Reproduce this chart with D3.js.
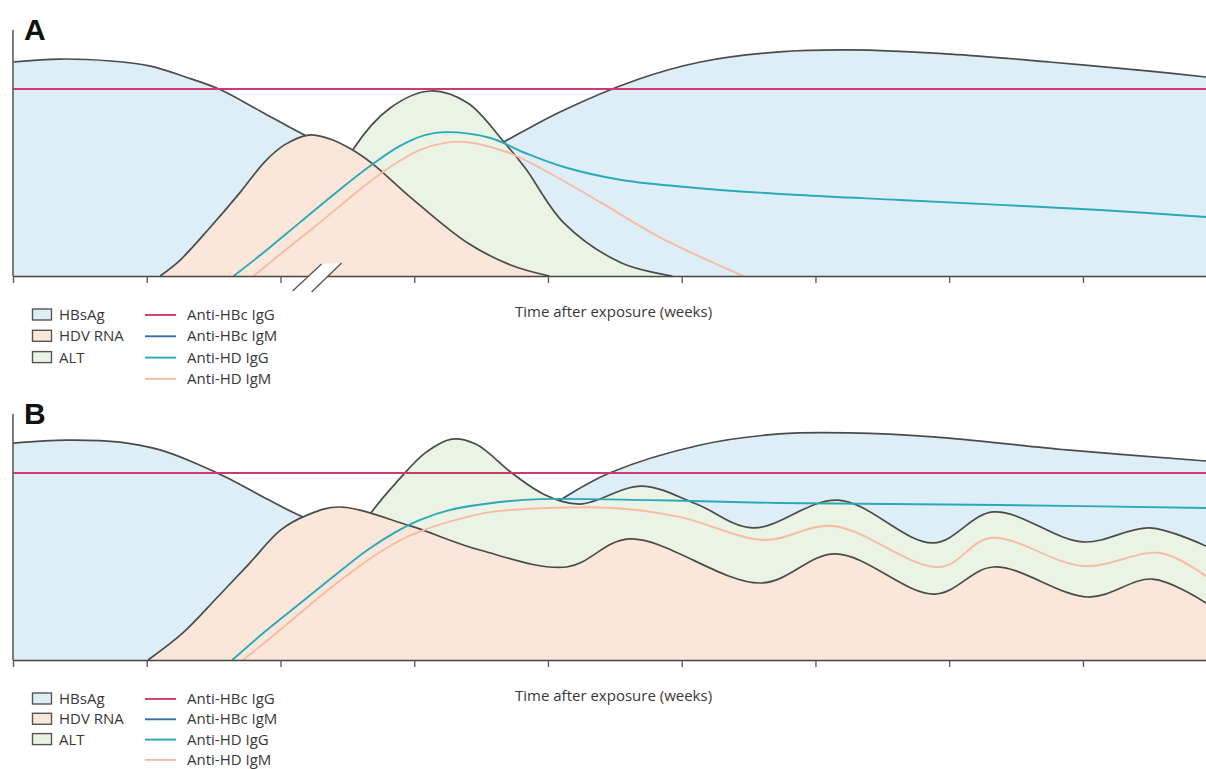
<!DOCTYPE html>
<html>
<head>
<meta charset="utf-8">
<script src="https://cdn.jsdelivr.net/npm/d3@7"></script>
<style>
  body { margin: 0; background: #fff; }
  text { font-family: "Open Sans", "Noto Sans", sans-serif; fill: #383838; }
</style>
</head>
<body>
<div id="chart"></div>
<script>
// values: x in tick units (weeks, unlabelled), y in relative level 0-100

// Panel A - acute coinfection
let aHbsag = [[0, 87.0], [0.35, 88.2], [0.73, 87.4], [1.02, 85.4], [1.29, 80.9], [1.54, 76.0], [1.86, 66.7],
  [2.18, 57.3], [2.59, 47.2], [3.04, 41.1], [3.42, 47.2], [3.67, 54.5], [4.09, 66.7], [4.66, 79.7],
  [5.14, 87.0], [5.73, 91.1], [6.26, 91.9], [7.01, 90.2], [7.75, 87.0], [8.5, 83.3], [8.92, 80.9]];
let aHdvRna = [[1.1, 0], [1.25, 6.5], [1.47, 19.5], [1.7, 34.1], [1.88, 46.3], [2.03, 53.3], [2.21, 57.3],
  [2.37, 55.7], [2.54, 51.2], [2.7, 45.1], [2.97, 32.1], [3.4, 13.4], [3.72, 4.5], [4.01, 0]];
let aAlt = [[1.99, 0], [2.3, 22.8], [2.54, 51.2], [2.82, 68.3], [3.12, 75.2], [3.4, 70.3], [3.67, 54.5],
  [3.83, 43.9], [4.12, 21.5], [4.55, 5.3], [4.93, 0]];
let aAntiHbcIgg = [[0, 76.0], [8.92, 76.0]];
let aAntiHdIgg = [[1.65, 0], [1.85, 8.5], [2.15, 22.0], [2.44, 35.0], [2.68, 45.1], [2.89, 52.8], [3.08, 57.3],
  [3.23, 58.5], [3.57, 56.1], [3.83, 50.0], [4.12, 44.3], [4.55, 39.0], [5.11, 35.8], [5.88, 32.9],
  [6.63, 30.9], [7.38, 28.9], [8.13, 26.8], [8.92, 24.0]];
let aAntiHdIgm = [[1.8, 0], [1.99, 8.5], [2.3, 22.0], [2.59, 35.0], [2.83, 44.7], [3.04, 51.2], [3.23, 54.1],
  [3.38, 54.5], [3.69, 50.4], [3.97, 43.1], [4.4, 29.7], [4.83, 15.9], [5.46, 0]];

// Panel B - superinfection
let bHbsag = [[0, 88.2], [0.4, 89.4], [0.8, 88.6], [1.1, 85.4], [1.36, 80.1], [1.62, 73.6], [1.9, 65.4],
  [2.17, 58.1], [2.74, 46.7], [3.34, 46.7], [3.87, 56.9], [4.09, 65.0], [4.46, 76.0], [5.14, 87.4],
  [5.73, 91.9], [6.26, 92.3], [6.88, 90.7], [7.88, 85.4], [8.92, 80.9]];
let bHdvRna = [[1.01, 0], [1.27, 11.0], [1.53, 25.6], [1.77, 39.4], [2.0, 52.8], [2.2, 58.9], [2.44, 62.2],
  [2.97, 54.5], [3.49, 44.7], [4.14, 37.8], [4.61, 49.2], [5.59, 31.3], [6.15, 43.1], [6.89, 26.8],
  [7.33, 37.8], [8.04, 25.6], [8.52, 32.9], [8.92, 23.2]];
let bAlt = [[1.99, 0], [2.67, 59.3], [2.89, 73.6], [3.08, 84.1], [3.28, 89.8], [3.46, 87.8], [3.74, 75.6],
  [3.98, 67.1], [4.24, 63.4], [4.7, 70.7], [5.11, 63.4], [5.53, 53.7], [6.17, 65.0], [6.88, 47.6],
  [7.33, 60.2], [8.0, 48.0], [8.5, 53.7], [8.92, 46.3]];
let bAntiHbcIgg = [[0, 76.0], [8.92, 76.0]];
let bAntiHdIgg = [[1.64, 0], [1.88, 11.4], [2.15, 23.2], [2.41, 34.6], [2.65, 44.7], [2.86, 52.0],
  [3.04, 56.9], [3.27, 61.0], [3.64, 64.2], [3.94, 65.4], [4.76, 65.0], [5.73, 63.8], [7.38, 63.0],
  [8.92, 61.8]];
let bAntiHdIgm = [[1.72, 0], [1.96, 10.6], [2.22, 22.4], [2.48, 33.7], [2.71, 42.7], [2.93, 49.6],
  [3.16, 54.5], [3.39, 58.1], [3.64, 60.6], [4.49, 61.8], [4.99, 58.1], [5.62, 48.8], [6.13, 54.5],
  [6.93, 37.8], [7.31, 49.6], [8.0, 38.2], [8.58, 43.5], [8.92, 34.1]];

let tickWeeks = [0, 1, 2, 3, 4, 5, 6, 7, 8];
let xLabel = "Time after exposure (weeks)";
let areaNames = ["HBsAg", "HDV RNA", "ALT"];
let lineNames = ["Anti-HBc IgG", "Anti-HBc IgM", "Anti-HD IgG", "Anti-HD IgM"];

// colours
let areaColors = ["#ddeef7", "#fbe6da", "#ebf3e4"];
let lineColors = ["#cf3a6e", "#3b6ea8", "#2aa9b9", "#f6bba4"];
let outline = "#4b4b4b";

let width = 1206;
let height = 769;

let svg = d3.select("#chart")
  .append("svg")
  .attr("width", width)
  .attr("height", height);

let x = d3.scaleLinear()
  .domain([0, 8.92])
  .range([13, 1206]);

function makePanel(opts) {
  let g = svg.append("g");
  let y = d3.scaleLinear()
    .domain([0, 100])
    .range([opts.baseline, opts.baseline - 246]);

  // keep smoothed curves from dipping under the baseline
  svg.append("clipPath")
    .attr("id", "clip" + opts.letter)
    .append("rect")
    .attr("x", x(0))
    .attr("y", y(100) - 20)
    .attr("width", x(8.92) - x(0))
    .attr("height", y(0) - y(100) + 20);

  let plot = g.append("g").attr("clip-path", "url(#clip" + opts.letter + ")");

  let curve = d3.curveCatmullRom.alpha(0.5);

  let area = d3.area()
    .x(function(d) { return x(d[0]); })
    .y0(y(0))
    .y1(function(d) { return y(d[1]); })
    .curve(curve);

  let line = d3.line()
    .x(function(d) { return x(d[0]); })
    .y(function(d) { return y(d[1]); })
    .curve(curve);

  // filled areas: HBsAg behind, ALT, then HDV RNA on top
  let layers = [
    { data: opts.hbsag, color: areaColors[0] },
    { data: opts.alt, color: areaColors[2] },
    { data: opts.hdv, color: areaColors[1] }
  ];
  layers.forEach(function(l) {
    plot.append("path")
      .datum(l.data)
      .attr("d", area)
      .attr("fill", l.color);
    plot.append("path")
      .datum(l.data)
      .attr("d", line)
      .attr("fill", "none")
      .attr("stroke", outline)
      .attr("stroke-width", 1.7);
  });

  // antibody lines
  let lines = [
    { data: opts.hbcIgg, color: lineColors[0] },
    { data: opts.hdIgm, color: lineColors[3] },
    { data: opts.hdIgg, color: lineColors[2] }
  ];
  lines.forEach(function(l) {
    plot.append("path")
      .datum(l.data)
      .attr("d", line)
      .attr("fill", "none")
      .attr("stroke", l.color)
      .attr("stroke-width", 1.9);
  });

  // x axis
  let axis = g.append("g")
    .attr("transform", "translate(0," + y(0) + ")")
    .call(d3.axisBottom(x).tickValues(tickWeeks).tickSize(7).tickSizeOuter(0).tickFormat(""));
  axis.select(".domain").attr("stroke", "#444").attr("stroke-width", 1.7);
  axis.selectAll(".tick line").attr("stroke", "#555").attr("stroke-width", 1.3);

  // y axis (no ticks)
  g.append("line")
    .attr("x1", x(0)).attr("x2", x(0))
    .attr("y1", y(0)).attr("y2", y(100))
    .attr("stroke", "#666")
    .attr("stroke-width", 1.7);

  // axis break
  if (opts.axisBreak) {
    let bx = x(2.27);
    let by = y(0);
    g.append("polygon")
      .attr("points", [[bx - 24, by + 15], [bx + 5, by - 12], [bx + 25, by - 13], [bx - 5, by + 16]].join(" "))
      .attr("fill", "#fff");
    [[bx - 24, by + 15, bx + 5, by - 12], [bx - 5, by + 16, bx + 25, by - 13]].forEach(function(s) {
      g.append("line")
        .attr("x1", s[0]).attr("y1", s[1]).attr("x2", s[2]).attr("y2", s[3])
        .attr("stroke", "#555")
        .attr("stroke-width", 1.3);
    });
  }

  // panel letter
  g.append("text")
    .attr("x", 24)
    .attr("y", opts.baseline - 236)
    .style("font-family", "'Liberation Sans', Arial, sans-serif")
    .style("font-weight", "bold")
    .style("font-size", "30px")
    .style("fill", "#111")
    .text(opts.letter);

  // x label
  g.append("text")
    .attr("x", 515)
    .attr("y", y(0) + 41)
    .style("font-size", "15px")
    .text(xLabel);

  // legend
  let ly = y(0) + 39;
  let step = opts.legendStep;
  areaNames.forEach(function(name, i) {
    g.append("rect")
      .attr("x", 32.5)
      .attr("y", ly + i * step - 6)
      .attr("width", 19)
      .attr("height", 11)
      .attr("fill", areaColors[i])
      .attr("stroke", "#555")
      .attr("stroke-width", 1.4);
    g.append("text")
      .attr("x", 59)
      .attr("y", ly + i * step + 5)
      .style("font-size", "15px")
      .text(name);
  });
  lineNames.forEach(function(name, i) {
    g.append("line")
      .attr("x1", 145).attr("x2", 176)
      .attr("y1", ly + i * step).attr("y2", ly + i * step)
      .attr("stroke", lineColors[i])
      .attr("stroke-width", 1.9);
    g.append("text")
      .attr("x", 187)
      .attr("y", ly + i * step + 5)
      .style("font-size", "15px")
      .text(name);
  });
}

makePanel({
  letter: "A", baseline: 276, axisBreak: true, legendStep: 21.3,
  hbsag: aHbsag, hdv: aHdvRna, alt: aAlt,
  hbcIgg: aAntiHbcIgg, hdIgg: aAntiHdIgg, hdIgm: aAntiHdIgm
});

makePanel({
  letter: "B", baseline: 660, axisBreak: false, legendStep: 20.3,
  hbsag: bHbsag, hdv: bHdvRna, alt: bAlt,
  hbcIgg: bAntiHbcIgg, hdIgg: bAntiHdIgg, hdIgm: bAntiHdIgm
});
</script>
</body>
</html>
